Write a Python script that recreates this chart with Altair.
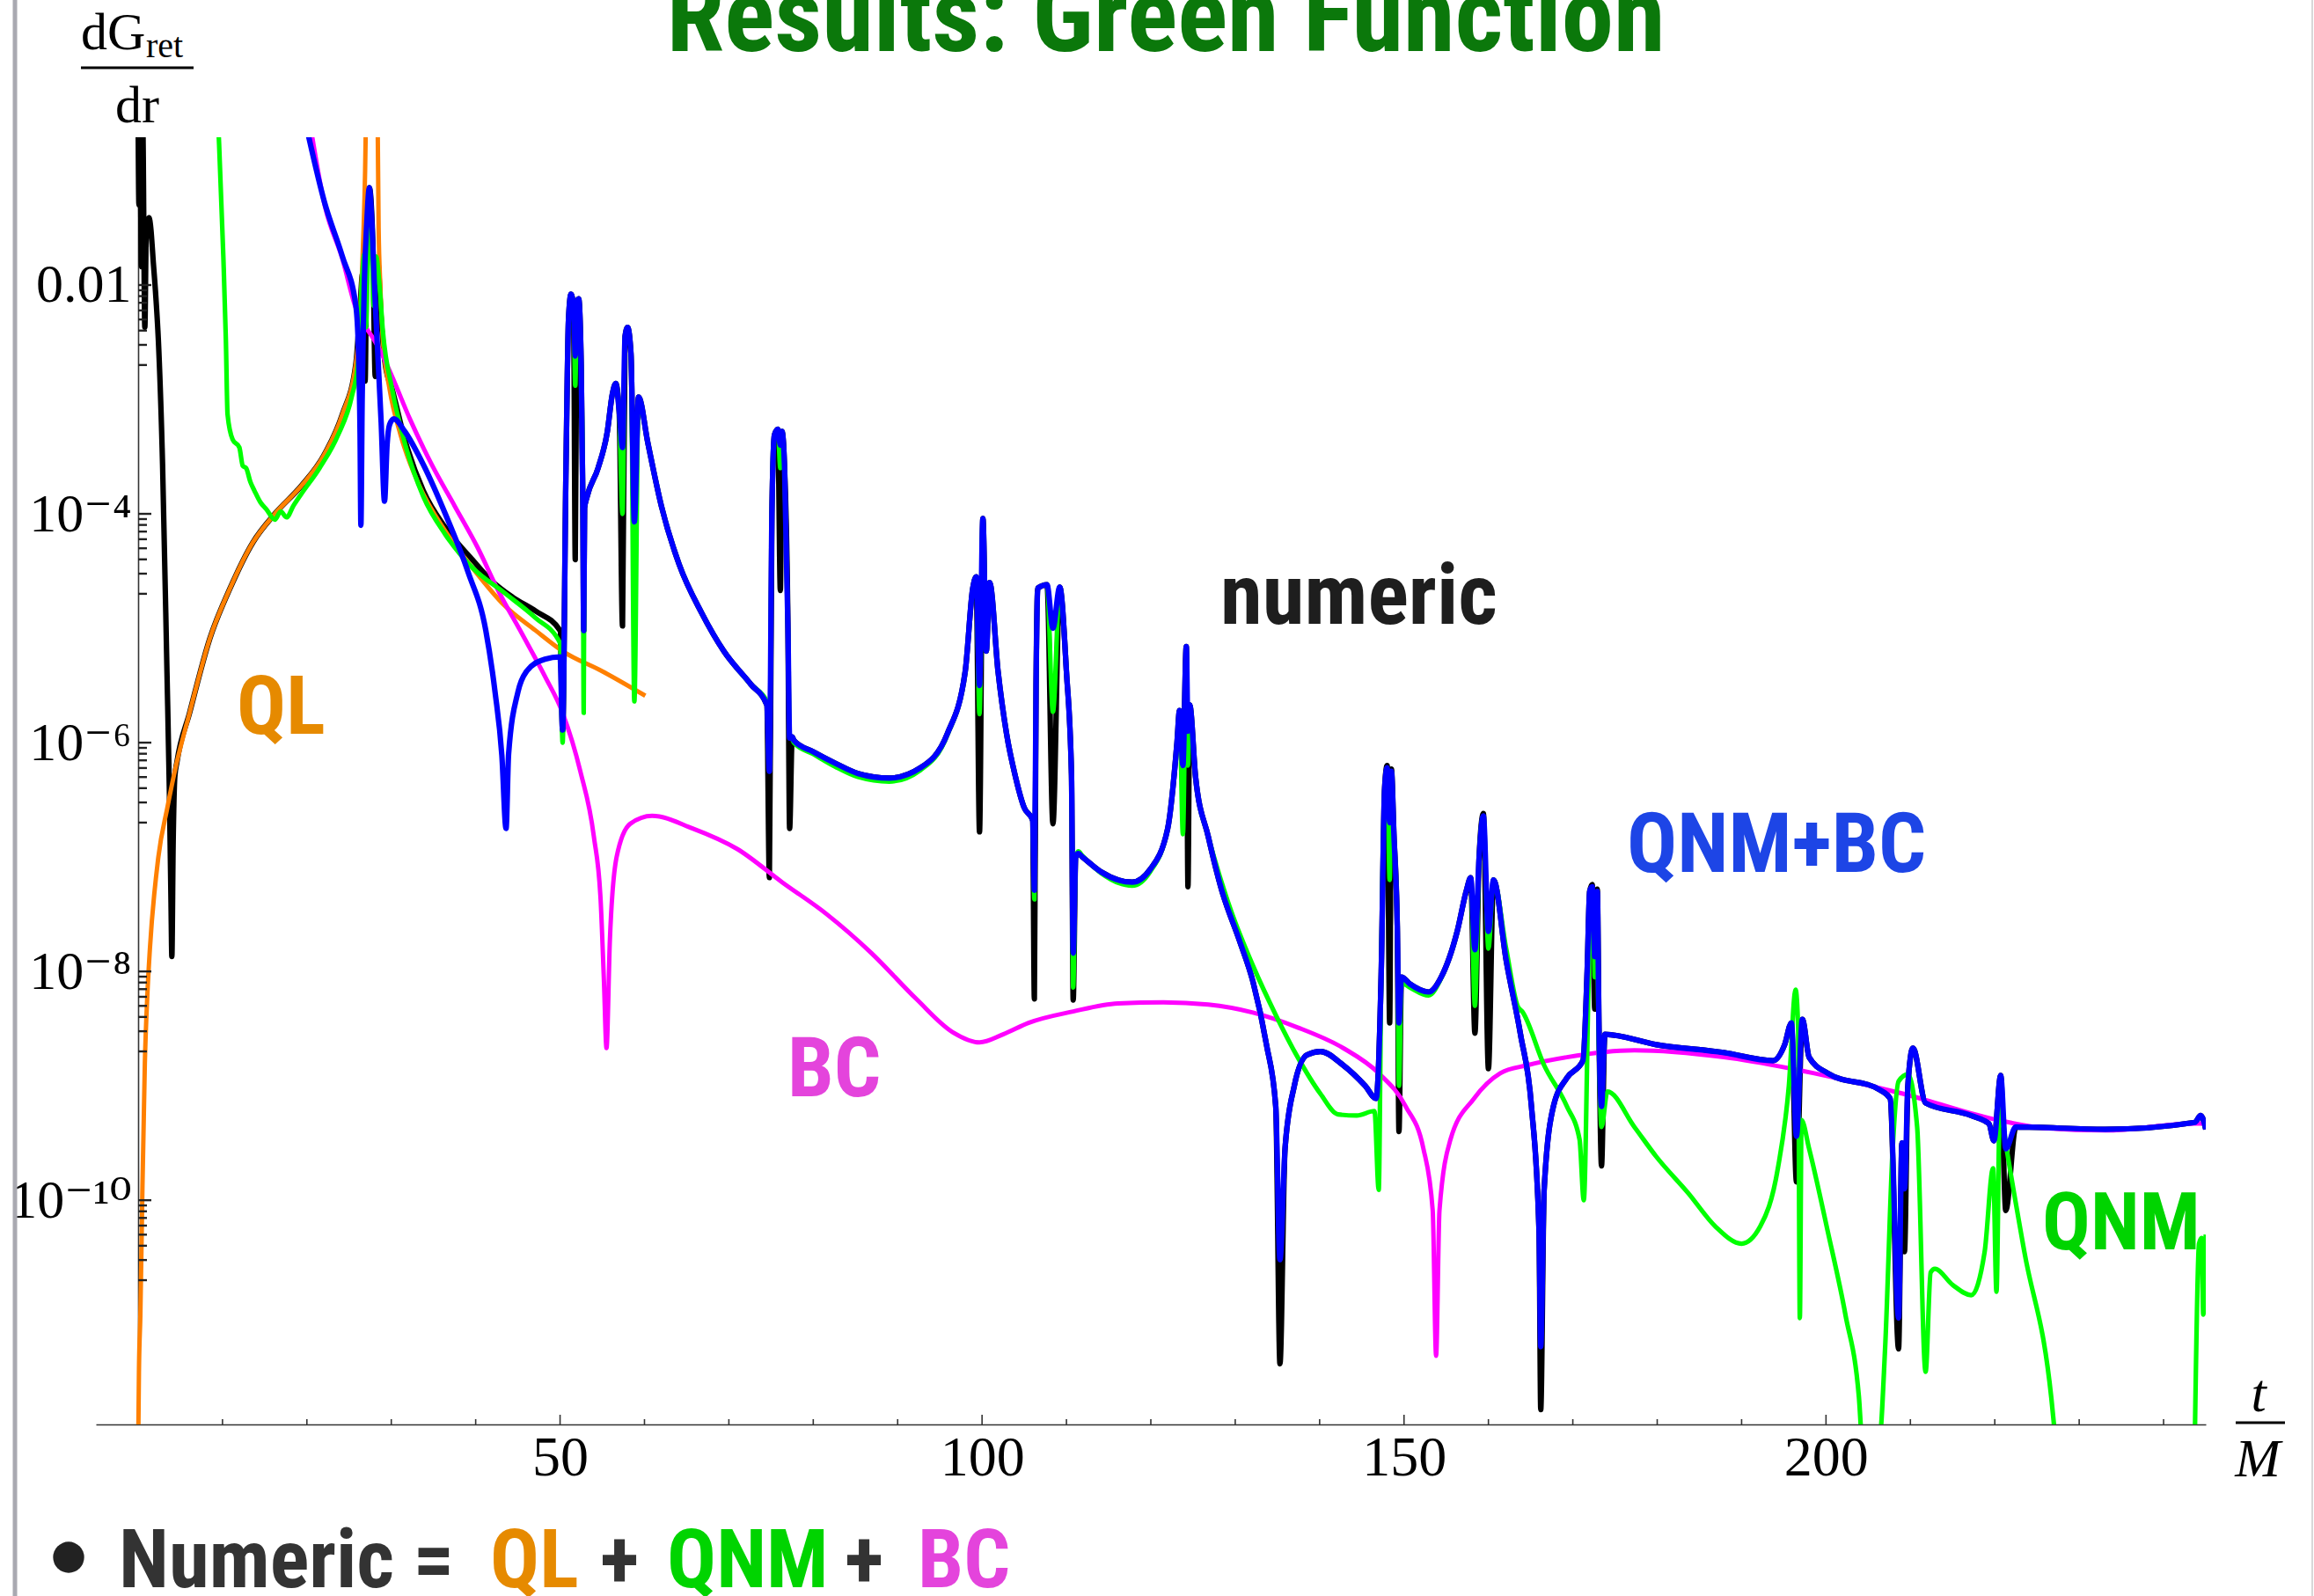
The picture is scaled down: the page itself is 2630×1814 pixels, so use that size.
import altair as alt
import pandas as pd

# ---------------- data: (t/M, log10 dG_ret/dr) ----------------
numeric = [
    (0.0, -0.50), (0.1, -1.30), (0.2, -0.50), (0.4, -1.84), (0.55, -0.60), (0.8, -2.37), (0.95, -1.60),
    (1.1, -1.45), (1.3, -1.41), (1.5, -1.50), (1.8, -1.80), (2.1, -2.10), (2.4, -2.48), (2.9, -3.57),
    (3.42, -5.38), (3.7, -6.40), (3.9, -7.40), (4.0, -7.87), (4.15, -6.90), (4.35, -6.30), (4.6, -6.17),
    (6.1, -5.74), (8.5, -5.09), (10.9, -4.65), (13.6, -4.25), (16.2, -4.00), (19.4, -3.75), (22.0, -3.49),
    (24.2, -3.13), (25.8, -2.69), (26.3, -2.20), (26.6, -1.90), (26.9, -2.84), (27.1, -1.60), (27.4, -1.15),
    (27.8, -1.60), (28.1, -2.80), (28.4, -1.80), (28.8, -2.30), (29.3, -2.70), (30.1, -2.91), (31.6, -3.35),
    (33.8, -3.80), (36.4, -4.12), (39.6, -4.40), (41.8, -4.58), (44.4, -4.73), (47.1, -4.85), (50.0, -5.02),
    (50.3, -5.90), (50.7, -3.60), (51.0, -2.30), (51.3, -2.08), (51.6, -2.20), (51.8, -4.40), (52.0, -2.15),
    (52.2, -2.12), (52.5, -2.70), (52.7, -3.90), (52.8, -5.02), (52.9, -3.95), (53.2, -3.85), (54.5, -3.60),
    (55.6, -3.28), (56.2, -2.95), (56.6, -2.86), (57.0, -3.10), (57.4, -4.98), (57.7, -2.45), (58.0, -2.37),
    (58.4, -2.60), (58.8, -4.07), (59.3, -2.98), (60.4, -3.38), (62.0, -3.93), (64.1, -4.44), (66.8, -4.87),
    (69.4, -5.20), (72.6, -5.49), (74.5, -5.67), (74.8, -7.18), (75.1, -4.00), (75.4, -3.31), (75.8, -3.26),
    (76.1, -4.67), (76.3, -3.28), (76.6, -3.60), (77.0, -5.00), (77.2, -6.75), (77.5, -5.95), (77.7, -5.98),
    (80.0, -6.08), (82.6, -6.18), (85.3, -6.27), (89.0, -6.31), (92.7, -6.22), (95.9, -5.92), (98.0, -5.38),
    (98.9, -4.65), (99.3, -4.55), (99.7, -6.78), (100.1, -4.04), (100.5, -5.20), (100.9, -4.60), (101.9, -5.38),
    (102.9, -5.92), (103.9, -6.28), (105.0, -6.57), (106.0, -6.68), (106.2, -8.24), (106.4, -5.50), (106.6, -4.65),
    (107.7, -4.62), (108.4, -6.71), (109.2, -4.64), (110.0, -5.38), (110.6, -6.28), (110.8, -8.25), (111.1, -7.00),
    (111.4, -6.97), (111.9, -7.00), (114.1, -7.13), (117.8, -7.22), (119.9, -7.11), (122.0, -6.75), (123.1, -6.00),
    (123.4, -5.72), (123.8, -6.20), (124.2, -5.16), (124.4, -7.26), (124.6, -5.67), (125.3, -6.30), (126.8, -6.82),
    (128.4, -7.29), (130.5, -7.73), (132.1, -8.09), (133.7, -8.64), (134.8, -9.18), (135.3, -11.43), (135.9, -9.55),
    (137.0, -9.00), (138.5, -8.73), (140.1, -8.70), (142.8, -8.82), (145.4, -9.00), (146.7, -9.11), (147.3, -8.00),
    (147.7, -6.40), (148.0, -6.20), (148.3, -8.45), (148.5, -6.23), (148.8, -6.80), (149.2, -7.60), (149.4, -9.40),
    (149.7, -8.05), (150.7, -8.11), (152.9, -8.18), (154.4, -8.05), (156.3, -7.65), (157.4, -7.29), (157.9, -7.18),
    (158.4, -8.54), (158.9, -7.00), (159.4, -6.62), (160.0, -8.85), (160.6, -7.20), (162.1, -7.90), (163.8, -8.55),
    (165.1, -9.18), (166.0, -10.27), (166.2, -11.83), (166.6, -9.91), (167.7, -9.18), (169.3, -8.93), (171.2, -8.78),
    (171.7, -8.00), (172.0, -7.30), (172.3, -7.24), (172.6, -8.33), (172.9, -7.28), (173.1, -8.50), (173.4, -9.70),
    (173.8, -8.55), (179.9, -8.64), (187.9, -8.71), (193.7, -8.78), (195.1, -8.64), (195.9, -8.45), (196.5, -9.84),
    (197.2, -8.42), (198.0, -8.75), (200.2, -8.89), (206.5, -9.04), (207.6, -9.11), (208.6, -11.30), (209.0, -9.50),
    (209.3, -10.45), (209.7, -9.00), (210.3, -8.67), (211.8, -9.15), (217.2, -9.26), (219.3, -9.33), (219.9, -9.48),
    (220.7, -8.91), (221.3, -10.09), (222.5, -9.36), (233.1, -9.38), (243.7, -9.32), (244.4, -9.26), (245.0, -9.38),
]

ql_early = [
    (0.02, -12.10), (0.1, -11.50), (0.27, -11.00), (0.5, -9.95), (0.8, -8.80), (1.1, -8.20), (1.4, -7.80),
    (2.4, -7.00), (3.46, -6.57), (4.5, -6.20), (6.1, -5.74), (8.5, -5.09), (10.9, -4.65), (13.6, -4.25),
    (16.2, -4.00), (19.4, -3.75), (22.0, -3.49), (24.2, -3.13), (25.8, -2.69), (26.6, -1.75), (26.9, -1.00),
    (27.05, -0.30),
]
ql_late = [
    (28.35, -0.30), (28.5, -1.50), (28.7, -2.00), (29.0, -2.48), (29.8, -2.91), (31.1, -3.31), (33.3, -3.75),
    (36.4, -4.15), (39.6, -4.47), (43.4, -4.80), (47.1, -5.02), (50.3, -5.20), (55.1, -5.38), (60.1, -5.59),
]

bc = [
    (20.4, -0.60), (22.1, -1.30), (24.2, -1.77), (25.8, -2.20), (26.9, -2.36), (27.9, -2.47), (29.0, -2.62),
    (30.1, -2.80), (32.2, -3.17), (34.8, -3.57), (37.5, -3.93), (40.2, -4.29), (42.8, -4.69), (45.5, -5.05),
    (48.2, -5.42), (50.3, -5.74), (52.4, -6.25), (54.0, -6.82), (54.8, -7.37), (55.2, -8.09), (55.5, -8.67),
    (55.9, -7.73), (56.7, -7.00), (58.3, -6.71), (60.9, -6.64), (65.7, -6.75), (71.0, -6.93), (76.3, -7.22),
    (81.6, -7.50), (86.9, -7.84), (92.2, -8.24), (96.5, -8.53), (99.7, -8.62), (102.5, -8.55), (105.5, -8.45),
    (110.8, -8.35), (116.1, -8.28), (121.5, -8.27), (126.8, -8.29), (132.1, -8.36), (137.4, -8.49), (142.8, -8.67),
    (147.0, -8.89), (150.2, -9.18), (152.3, -9.55), (153.4, -10.09), (153.8, -11.36), (154.2, -10.09),
    (155.5, -9.47), (158.3, -9.11), (161.4, -8.89), (164.6, -8.82), (169.3, -8.75), (177.3, -8.69),
    (187.9, -8.75), (198.6, -8.89), (209.2, -9.07), (219.8, -9.29), (226.0, -9.37), (233.1, -9.39),
    (243.7, -9.33), (245.0, -9.33),
]

qnm_main = [
    (9.5, -0.60), (9.6, -0.77), (10.1, -1.75), (10.4, -2.48), (10.6, -3.13), (11.2, -3.35), (12.0, -3.42),
    (12.4, -3.58), (12.8, -3.60), (13.3, -3.72), (13.8, -3.80), (14.5, -3.90), (15.2, -3.96), (16.2, -4.05),
    (16.9, -3.98), (17.6, -4.03), (18.4, -3.93), (19.4, -3.82), (21.5, -3.60), (23.7, -3.31), (25.3, -2.98),
    (26.1, -2.66), (26.5, -2.00), (26.8, -1.73), (27.0, -2.37), (27.3, -1.40), (27.6, -1.50), (27.9, -2.18),
    (28.2, -1.75), (28.6, -2.00), (29.0, -2.40), (30.1, -2.91), (31.6, -3.38), (33.8, -3.85), (36.4, -4.18),
    (39.6, -4.47), (43.4, -4.69), (47.1, -4.91), (50.0, -5.13), (50.3, -6.00), (50.7, -3.60), (51.0, -2.30),
    (51.3, -2.08), (51.6, -2.20), (51.8, -2.88), (52.0, -2.15), (52.2, -2.12), (52.5, -2.70), (52.7, -3.90),
    (52.8, -5.74), (52.9, -3.95), (53.2, -3.85), (54.5, -3.60), (55.6, -3.28), (56.2, -2.95), (56.6, -2.86),
    (57.0, -3.10), (57.4, -4.00), (57.7, -2.45), (58.0, -2.37), (58.4, -2.60), (58.8, -5.64), (59.3, -2.98),
    (60.4, -3.38), (62.0, -3.93), (64.1, -4.44), (66.8, -4.87), (69.4, -5.20), (72.6, -5.49), (74.5, -5.64),
    (74.8, -6.25), (75.1, -4.00), (75.4, -3.31), (75.8, -3.26), (76.1, -3.60), (76.3, -3.28), (76.6, -3.60),
    (77.0, -5.00), (77.2, -5.96), (77.5, -5.97), (77.7, -6.00), (80.0, -6.10), (82.6, -6.21), (85.3, -6.30),
    (89.0, -6.34), (92.7, -6.24), (95.9, -5.93), (98.0, -5.38), (98.9, -4.65), (99.3, -4.55), (99.7, -5.75),
    (100.1, -4.04), (100.5, -5.20), (100.9, -4.60), (101.9, -5.38), (102.9, -5.92), (103.9, -6.28),
    (105.0, -6.57), (106.0, -6.68), (106.2, -7.37), (106.4, -5.50), (106.6, -4.65), (107.7, -4.62),
    (108.4, -5.73), (109.2, -4.64), (110.0, -5.38), (110.6, -6.28), (110.8, -8.14), (111.1, -7.00),
    (111.4, -6.95), (111.9, -6.99), (114.1, -7.14), (117.8, -7.25), (119.9, -7.13), (122.0, -6.75),
    (123.1, -6.00), (123.4, -5.72), (123.8, -6.80), (124.2, -5.16), (124.4, -6.20), (124.6, -5.67),
    (125.3, -6.30), (126.8, -6.82), (127.4, -6.98), (129.5, -7.47), (132.1, -7.95), (134.8, -8.38),
    (137.4, -8.75), (140.1, -9.07), (142.2, -9.25), (144.4, -9.26), (146.5, -9.22), (147.0, -9.91),
    (147.3, -8.00), (147.7, -6.40), (148.0, -6.22), (148.3, -7.20), (148.5, -6.25), (148.8, -6.80),
    (149.2, -7.60), (149.4, -9.00), (149.7, -8.10), (150.7, -8.14), (152.9, -8.21), (154.4, -8.06),
    (156.3, -7.65), (157.4, -7.29), (157.9, -7.18), (158.4, -8.30), (158.9, -7.00), (159.4, -6.64),
    (160.0, -7.80), (160.6, -7.20), (162.1, -7.80), (163.5, -8.31), (164.0, -8.35), (166.6, -8.82),
    (169.3, -9.18), (170.8, -9.47), (171.3, -10.00), (171.9, -8.00), (172.2, -7.35), (172.4, -7.30),
    (172.6, -8.05), (172.8, -7.35), (173.1, -8.70), (173.4, -9.36), (174.1, -9.05), (177.3, -9.36),
    (179.9, -9.62), (183.7, -9.94), (186.9, -10.23), (190.0, -10.38), (192.2, -10.23), (194.3, -9.72),
    (195.6, -9.00), (196.4, -8.16), (196.7, -8.50), (196.9, -11.03), (197.1, -9.30), (198.0, -9.55),
    (200.2, -10.27), (202.3, -11.00), (203.9, -11.72), (204.3, -12.10), (206.3, -12.10), (207.0, -11.30),
    (207.9, -9.55), (208.6, -8.96), (209.7, -8.90), (210.8, -9.36), (211.8, -11.50), (212.4, -10.63),
    (212.9, -10.60), (215.0, -10.74), (217.2, -10.83), (218.8, -10.45), (219.8, -9.72), (220.2, -10.80),
    (220.6, -9.18), (221.4, -9.55), (223.5, -10.45), (226.7, -11.73), (227.2, -12.10),
]
qnm_tail = [(243.7, -12.10), (244.2, -10.38), (244.5, -10.33), (244.7, -11.00), (245.0, -10.30)]

qnm_bc = [
    (19.9, -0.60), (22.1, -1.28), (24.2, -1.75), (25.8, -2.18), (26.1, -2.55), (26.3, -3.30), (26.4, -4.10),
    (26.55, -3.00), (26.8, -2.00), (27.1, -1.45), (27.4, -1.15), (27.7, -1.45), (28.0, -2.00), (28.4, -2.60),
    (28.8, -3.20), (29.2, -3.89), (29.5, -3.40), (29.8, -3.22), (30.3, -3.17), (31.6, -3.28), (33.8, -3.57),
    (36.4, -4.00), (39.1, -4.51), (41.2, -5.02), (42.3, -5.56), (43.1, -6.11), (43.6, -6.75), (43.9, -6.10),
    (45.0, -5.56), (46.0, -5.38), (48.2, -5.27), (50.0, -5.25), (50.3, -5.89), (50.7, -3.60), (51.0, -2.30),
    (51.3, -2.08), (51.6, -2.20), (51.8, -2.62), (52.0, -2.15), (52.2, -2.12), (52.5, -2.70), (52.7, -3.90),
    (52.8, -5.02), (52.9, -3.95), (53.2, -3.85), (54.5, -3.60), (55.6, -3.28), (56.2, -2.95), (56.6, -2.86),
    (57.0, -3.10), (57.4, -3.42), (57.7, -2.45), (58.0, -2.37), (58.4, -2.60), (58.8, -4.07), (59.3, -2.98),
    (60.4, -3.38), (62.0, -3.93), (64.1, -4.44), (66.8, -4.87), (69.4, -5.20), (72.6, -5.49), (74.5, -5.67),
    (74.8, -6.25), (75.1, -4.00), (75.4, -3.31), (75.8, -3.26), (76.1, -3.40), (76.3, -3.28), (76.6, -3.60),
    (77.0, -5.00), (77.2, -5.96), (77.5, -5.95), (77.7, -5.98), (80.0, -6.08), (82.6, -6.18), (85.3, -6.27),
    (89.0, -6.31), (92.7, -6.22), (95.9, -5.92), (98.0, -5.38), (98.9, -4.65), (99.3, -4.55), (99.7, -5.50),
    (100.1, -4.04), (100.5, -5.20), (100.9, -4.60), (101.9, -5.38), (102.9, -5.92), (103.9, -6.28),
    (105.0, -6.57), (106.0, -6.68), (106.2, -7.29), (106.4, -5.50), (106.6, -4.65), (107.7, -4.62),
    (108.4, -5.00), (109.2, -4.64), (110.0, -5.38), (110.6, -6.28), (110.8, -7.84), (111.1, -7.00),
    (111.4, -6.97), (111.9, -7.00), (114.1, -7.13), (117.8, -7.22), (119.9, -7.11), (122.0, -6.75),
    (123.1, -6.00), (123.4, -5.72), (123.8, -6.20), (124.2, -5.16), (124.4, -5.90), (124.6, -5.67),
    (125.3, -6.30), (126.8, -6.82), (128.4, -7.29), (130.5, -7.73), (132.1, -8.09), (133.7, -8.64),
    (134.8, -9.18), (135.3, -10.52), (135.9, -9.55), (137.0, -9.00), (138.5, -8.73), (140.1, -8.70),
    (142.8, -8.82), (145.4, -9.00), (146.7, -9.11), (147.3, -8.00), (147.7, -6.40), (148.0, -6.22),
    (148.3, -6.70), (148.5, -6.25), (148.8, -6.80), (149.2, -7.60), (149.4, -8.45), (149.7, -8.05),
    (150.7, -8.11), (152.9, -8.18), (154.4, -8.05), (156.3, -7.65), (157.4, -7.29), (157.9, -7.18),
    (158.4, -7.81), (158.9, -7.00), (159.4, -6.64), (160.0, -7.65), (160.6, -7.20), (162.1, -7.90),
    (163.8, -8.55), (165.1, -9.18), (166.0, -10.27), (166.2, -11.28), (166.6, -9.91), (167.7, -9.18),
    (169.3, -8.93), (171.2, -8.78), (171.7, -8.00), (172.0, -7.30), (172.3, -7.26), (172.6, -7.87),
    (172.9, -7.30), (173.1, -8.50), (173.4, -9.18), (173.8, -8.55), (179.9, -8.64), (187.9, -8.71),
    (193.7, -8.78), (195.1, -8.64), (195.9, -8.45), (196.5, -9.44), (197.2, -8.42), (198.0, -8.75),
    (200.2, -8.89), (206.5, -9.04), (207.6, -9.11), (208.6, -11.03), (209.0, -9.50), (209.3, -9.90),
    (209.7, -9.00), (210.3, -8.67), (211.8, -9.15), (217.2, -9.26), (219.3, -9.33), (219.9, -9.48),
    (220.7, -8.91), (221.3, -9.55), (222.5, -9.36), (233.1, -9.38), (243.7, -9.32), (244.4, -9.26),
    (245.0, -9.38),
]

x_tick_major = [50, 100, 150, 200]
x_tick_minor = [10, 20, 30, 40, 60, 70, 80, 90, 110, 120, 130, 140, 160, 170, 180, 190, 210, 220, 230, 240]
y_tick_major = [1e-2, 1e-4, 1e-6, 1e-8, 1e-10]
y_tick_exponents = [-2, -4, -6, -8, -10]
y_tick_labels = ["0.01", "10⁻⁴", "10⁻⁶", "10⁻⁸", "10⁻¹⁰"]
y_tick_minor = [k * 10.0 ** e for e in (-3, -5, -7, -9, -11) for k in range(2, 10)]

# ---------------- tables ----------------
series_specs = [
    ("numeric", [numeric]),
    ("QL", [ql_early, ql_late]),
    ("BC", [bc]),
    ("QNM", [qnm_main, qnm_tail]),
    ("QNM+BC", [qnm_bc]),
]
rows = []
for name, segs in series_specs:
    for si, seg in enumerate(segs):
        for i, (t, lg) in enumerate(seg):
            rows.append({"series": name, "seg": f"{name}-{si}", "i": i, "t": t, "v": 10.0 ** lg})
df = pd.DataFrame(rows)

xt_major = pd.DataFrame({"t": x_tick_major})
xt_minor = pd.DataFrame({"t": x_tick_minor})
yt_major = pd.DataFrame({"v": y_tick_major})
yt_minor = pd.DataFrame({"v": y_tick_minor})
one = pd.DataFrame({"k": [0]})

# ---------------- layout ----------------
W, H = 2398, 1463
LEFT, TOP = 109, 156
PX0 = 48  # pixel position of t = 0 inside the plot area

SANS = "Roboto Condensed, Roboto, Liberation Sans, sans-serif"
SERIF = "Liberation Serif, Times New Roman, DejaVu Serif, serif"

xscale = alt.Scale(domain=[-5, 245], nice=False, zero=False)
yscale = alt.Scale(type="log", domain=[10 ** -11.96, 10 ** -0.708], nice=False)

label_expr = "".join(
    f"abs(log(datum.value)/LN10 - ({e})) < 0.01 ? '{lab}' : "
    for e, lab in zip(y_tick_exponents, y_tick_labels)
) + "''"

x_axis = alt.Axis(values=x_tick_major, title=None, ticks=False, grid=False, domain=True,
                  domainColor="#333333", domainWidth=1.6, labelFont=SERIF, labelFontSize=64,
                  labelColor="black", labelPadding=6, labelFlush=False, labelOverlap=False)
y_axis = alt.Axis(values=y_tick_major, labelExpr=label_expr, title=None, ticks=False, grid=False,
                  domain=True, domainColor="#333333", domainWidth=1.6, offset=-PX0,
                  labelFont=SERIF, labelFontSize=62, labelColor="black", labelPadding=8,
                  labelFlush=False, labelOverlap=False)

X_ENC = alt.X("t:Q", scale=xscale, axis=x_axis)
Y_ENC = alt.Y("v:Q", scale=yscale, axis=y_axis)


def lines(name, color, width):
    return alt.Chart(df).transform_filter(alt.datum.series == name).mark_line(
        color=color, strokeWidth=width, clip=True, strokeJoin="round", interpolate="monotone"
    ).encode(x=X_ENC, y=Y_ENC, detail="seg:N", order="i:Q")


def label(text, x, y, size, color, font=SANS, weight="bold", style="normal", align="left"):
    return alt.Chart(one).mark_text(
        text=text, fontSize=size, color=color, font=font, fontWeight=weight,
        fontStyle=style, align=align, baseline="alphabetic"
    ).encode(x=alt.value(x), y=alt.value(y))


def hline(x1, x2, y, width=3, color="black"):
    return alt.Chart(one).mark_rule(color=color, strokeWidth=width).encode(
        x=alt.value(x1), x2=alt.value(x2), y=alt.value(y))


layers = [
    # curves (axes defined identically on every scaled layer)
    lines("numeric", "#000000", 6.2),
    lines("QL", "#ff8000", 5.0),
    lines("BC", "#ff00ff", 5.0),
    lines("QNM", "#00ff00", 5.2),
    lines("QNM+BC", "#0000ff", 6.2),
    # ticks pointing into the plot
    alt.Chart(xt_major).mark_rule(color="#333333", strokeWidth=1.6).encode(
        x=X_ENC, y=alt.value(H), y2=alt.value(H - 11)),
    alt.Chart(xt_minor).mark_rule(color="#333333", strokeWidth=1.6).encode(
        x=X_ENC, y=alt.value(H), y2=alt.value(H - 6)),
    alt.Chart(yt_major).mark_rule(color="#222222", strokeWidth=2.4).encode(
        y=Y_ENC, x=alt.value(PX0), x2=alt.value(PX0 + 15)),
    alt.Chart(yt_minor).mark_rule(color="#222222", strokeWidth=2.4).encode(
        y=Y_ENC, x=alt.value(PX0), x2=alt.value(PX0 + 10)),
    # slide border lines
    alt.Chart(one).mark_rule(color="#a9a9b1", strokeWidth=5).encode(
        x=alt.value(17 - LEFT), y=alt.value(-TOP), y2=alt.value(1814 - TOP)),
    alt.Chart(one).mark_rule(color="#d8d8d8", strokeWidth=2).encode(
        x=alt.value(2628 - LEFT), y=alt.value(-TOP), y2=alt.value(1814 - TOP)),
    # title (cropped by the top edge, as in the slide)
    label("Results: Green Function", 1325 - LEFT, 58 - TOP, 119, "#0b780b", align="center"),
    # axis titles
    label("dG", 92 - LEFT, 56 - TOP, 60, "black", font=SERIF, weight="normal"),
    label("ret", 166 - LEFT, 65 - TOP, 40, "black", font=SERIF, weight="normal"),
    hline(92 - LEFT, 220 - LEFT, 77 - TOP),
    label("dr", 156 - LEFT, 139 - TOP, 60, "black", font=SERIF, weight="normal", align="center"),
    label("t", 2567 - LEFT, 1604 - TOP, 62, "black", font=SERIF, weight="normal", style="italic", align="center"),
    hline(2541 - LEFT, 2597 - LEFT, 1617 - TOP),
    label("M", 2566 - LEFT, 1678 - TOP, 62, "black", font=SERIF, weight="normal", style="italic", align="center"),
    # curve labels
    label("numeric", 1387 - LEFT, 709 - TOP, 97, "#1e1e1e"),
    label("QL", 269 - LEFT, 834 - TOP, 93, "#e68a00"),
    label("BC", 895 - LEFT, 1246 - TOP, 94, "#e444dc"),
    label("QNM+BC", 1849 - LEFT, 991 - TOP, 95, "#1d45e6"),
    label("QNM", 2321 - LEFT, 1420 - TOP, 91, "#00d400"),
    # bottom formula
    alt.Chart(one).mark_circle(size=1250, color="#222222", opacity=1).encode(
        x=alt.value(78 - LEFT), y=alt.value(1770 - TOP)),
    label("Numeric =", 135 - LEFT, 1804 - TOP, 93, "#333333"),
    label("QL", 557 - LEFT, 1804 - TOP, 93, "#e68a00"),
    label("+", 682 - LEFT, 1804 - TOP, 93, "#333333"),
    label("QNM", 758 - LEFT, 1804 - TOP, 93, "#00d400"),
    label("+", 960 - LEFT, 1804 - TOP, 93, "#333333"),
    label("BC", 1043 - LEFT, 1804 - TOP, 93, "#e444dc"),
]

chart = alt.layer(*layers).properties(
    width=W,
    height=H,
    padding={"left": LEFT, "top": TOP, "right": 2630 - LEFT - W, "bottom": 1814 - TOP - H},
    autosize=alt.AutoSizeParams(type="none"),
    background="white",
).configure_view(strokeOpacity=0)

chart.save("out.html", embed_options={"renderer": "svg", "actions": False})
